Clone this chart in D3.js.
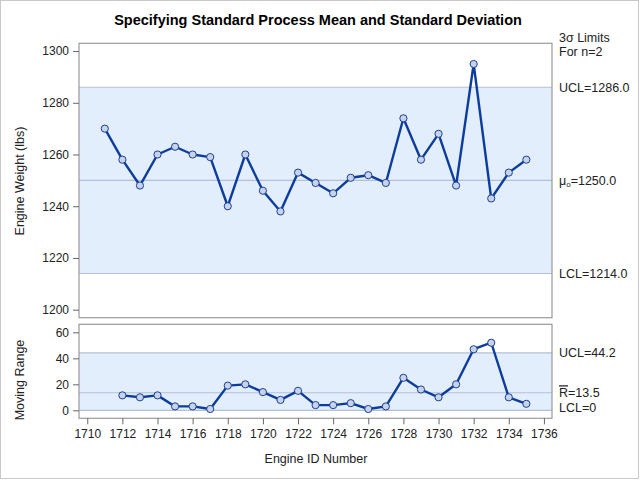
<!DOCTYPE html>
<html><head><meta charset="utf-8">
<script src="https://cdn.jsdelivr.net/npm/d3@7"></script>
<style>body{margin:0;background:#fff}svg{display:block;font-family:"Liberation Sans",Arial,sans-serif}</style>
</head><body><svg id="c" width="640" height="480"></svg>
<script>
const engineIds = [1711,1712,1713,1714,1715,1716,1717,1718,1719,1720,1721,1722,1723,1724,1725,1726,1727,1728,1729,1730,1731,1732,1733,1734,1735];
const weights = [1270,1258,1248,1260,1263,1260,1259,1240,1260,1246,1238,1253,1249,1245,1251,1252,1249,1274,1258,1268,1248,1295,1243,1253,1258];
const rangeIds = [1712,1713,1714,1715,1716,1717,1718,1719,1720,1721,1722,1723,1724,1725,1726,1727,1728,1729,1730,1731,1732,1733,1734,1735];
const movingRanges = [11.5,10,11.5,3,3,1,19,20,14,8,15,4,4,5.5,1,3,25,16,10,20,47,52,10,5];
const xTicks = [1710,1712,1714,1716,1718,1720,1722,1724,1726,1728,1730,1732,1734,1736];
const weightTicks = [1200,1220,1240,1260,1280,1300];
const rangeTicks = [0,20,40,60];
const meanLimits = {ucl:1286.0, center:1250.0, lcl:1214.0};
const rangeLimits = {ucl:44.2, center:13.5, lcl:0};

const svg = d3.select("#c");
const L = 79, R = 552;
const x = d3.scaleLinear().domain([1709.53, 1736.46]).range([L, R]);
const yW = d3.scaleLinear().domain([1196.9, 1303]).range([317.7, 43.3]);
const yR = d3.scaleLinear().domain([-6.15, 66.2]).range([418.3, 324.3]);

svg.append("rect").attr("x",0.5).attr("y",0.5).attr("width",638).attr("height",478).attr("fill","#fff").attr("stroke","#c8c8c8");

svg.append("text").attr("x",318).attr("y",25).attr("text-anchor","middle")
  .attr("font-size",14.5).attr("font-weight","bold").text("Specifying Standard Process Mean and Standard Deviation");

function panel(y, vals, ids, lim, ticks, ylabel, labelY) {
  const [y0, y1] = y.range();
  const g = svg.append("g");
  g.append("rect").attr("x",L).attr("y",y(lim.ucl)).attr("width",R-L).attr("height",y(lim.lcl)-y(lim.ucl)).attr("fill","#e3eefd");
  [lim.ucl, lim.center, lim.lcl].forEach(v => {
    g.append("line").attr("x1",L).attr("x2",R).attr("y1",y(v)).attr("y2",y(v)).attr("stroke","#b3bfd4").attr("stroke-width",1.2);
  });
  const line = d3.line().x((d,i)=>x(ids[i])).y(d=>y(d));
  g.append("path").datum(vals).attr("d",line).attr("fill","none").attr("stroke","#0c3c9c").attr("stroke-width",2.4).attr("stroke-linejoin","round");
  g.selectAll("circle").data(vals).join("circle").attr("cx",(d,i)=>x(ids[i])).attr("cy",d=>y(d)).attr("r",3.6)
    .attr("fill","#c7d3e8").attr("stroke","#1c3f95").attr("stroke-width",1);
  g.append("rect").attr("x",L).attr("y",y1).attr("width",R-L).attr("height",y0-y1).attr("fill","none").attr("stroke","#9a9a9a").attr("stroke-width",1.2);
  const ax = svg.append("g").attr("transform",`translate(${L},0)`).call(d3.axisLeft(y).tickValues(ticks).tickSize(6).tickPadding(4).tickFormat(d3.format("d")));
  ax.select(".domain").remove();
  ax.selectAll("line").attr("stroke","#666");
  ax.selectAll("text").attr("font-size",12).attr("fill","#222").attr("font-family","Liberation Sans, Arial, sans-serif");
  svg.append("text").attr("transform",`translate(24,${labelY}) rotate(-90)`).attr("text-anchor","middle").attr("font-size",12.5).attr("fill","#222").text(ylabel);
}
panel(yW, weights, engineIds, meanLimits, weightTicks, "Engine Weight (lbs)", 181);
panel(yR, movingRanges, rangeIds, rangeLimits, rangeTicks, "Moving Range", 380);

const xa = svg.append("g").attr("transform","translate(0,418.3)").call(d3.axisBottom(x).tickValues(xTicks).tickSize(6).tickPadding(5).tickFormat(d3.format("d")));
xa.select(".domain").remove();
xa.selectAll("line").attr("stroke","#666");
xa.selectAll("text").attr("font-size",12).attr("fill","#222").attr("font-family","Liberation Sans, Arial, sans-serif");
svg.append("text").attr("x",316).attr("y",463).attr("text-anchor","middle").attr("font-size",12.5).attr("fill","#222").text("Engine ID Number");

const lx = 559;
const rt = (t,yy)=>svg.append("text").attr("x",lx).attr("y",yy).attr("font-size",12.5).attr("fill","#222").text(t);
rt("3\u03C3 Limits",42);
rt("For n=2",56);
rt("UCL=" + meanLimits.ucl.toFixed(1), yW(meanLimits.ucl)+4.5);
const mu = svg.append("text").attr("x",lx).attr("y",yW(meanLimits.center)+4.5).attr("font-size",12.5).attr("fill","#222");
mu.append("tspan").text("\u03BC");
mu.append("tspan").attr("font-size",8).attr("dy",2).text("o");
mu.append("tspan").attr("dy",-2).text("=" + meanLimits.center.toFixed(1));
rt("LCL=" + meanLimits.lcl.toFixed(1), yW(meanLimits.lcl)+4.5);
rt("UCL=" + rangeLimits.ucl.toFixed(1), yR(rangeLimits.ucl)+4.5);
const rb = svg.append("text").attr("x",lx).attr("y",yR(rangeLimits.center)+4.5).attr("font-size",12.5).attr("fill","#222");
rb.append("tspan").attr("text-decoration","overline").text("R");
rb.append("tspan").text("=" + rangeLimits.center.toFixed(1));
rt("LCL=" + rangeLimits.lcl, 411.5);
</script></body></html>
